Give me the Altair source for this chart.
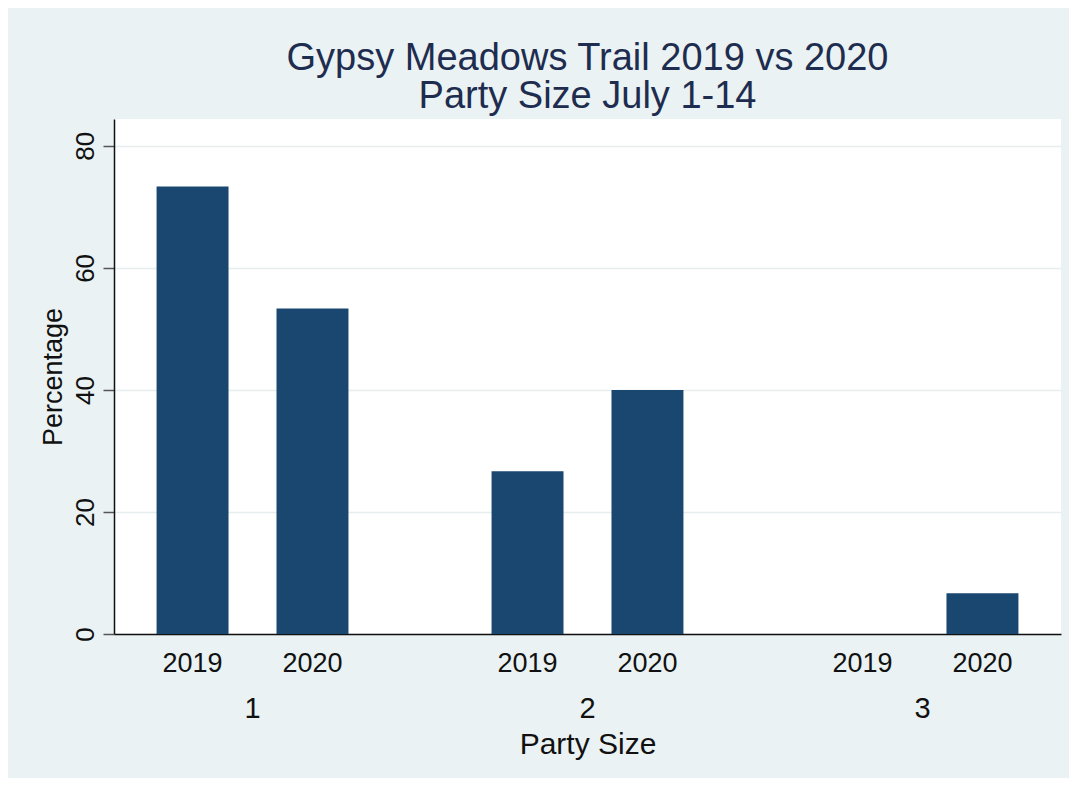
import altair as alt
import pandas as pd

# Data
party_sizes = ["1", "1", "2", "2", "3", "3"]
years = ["2019", "2020", "2019", "2020", "2019", "2020"]
percentages = [73.33, 53.33, 26.67, 40.0, 0.0, 6.67]
y_ticks = [0, 20, 40, 60, 80]
title_lines = ["Gypsy Meadows Trail 2019 vs 2020", "Party Size July 1-14"]

df = pd.DataFrame({"party": party_sizes, "year": years, "pct": percentages})

FONT = "Liberation Sans"
BG = "#EAF2F3"
BAR = "#1A476F"
W, H = 947, 515

x_enc = alt.X(
    "party:N",
    sort=["1", "2", "3"],
    scale=alt.Scale(paddingInner=0.173, paddingOuter=0),
    axis=alt.Axis(
        title="Party Size",
        labelAngle=0,
        ticks=False,
        tickSize=0,
        labelPadding=83,
        labelBaseline="alphabetic",
        labelFontSize=29,
        labelFont=FONT,
        labelColor="#111111",
        titleFont=FONT,
        titleFontSize=30,
        titleFontWeight="normal",
        titleColor="#111111",
        titleBaseline="alphabetic",
        titleY=119,
        domainColor="#111111",
        domainWidth=1.5,
        grid=False,
    ),
)
xoff_enc = alt.XOffset(
    "year:N",
    sort=["2019", "2020"],
    scale=alt.Scale(paddingInner=0.4, paddingOuter=0.355),
)
y_enc = alt.Y(
    "pct:Q",
    scale=alt.Scale(domain=[0, 84.4], nice=False, zero=True),
    axis=alt.Axis(
        title="Percentage",
        values=y_ticks,
        labelAngle=270,
        labelAlign="center",
        labelBaseline="alphabetic",
        labelPadding=10,
        tickSize=11,
        tickColor="#555555",
        tickWidth=1.5,
        labelFont=FONT,
        labelFontSize=26,
        labelColor="#111111",
        titleFont=FONT,
        titleFontSize=27,
        titleFontWeight="normal",
        titleColor="#111111",
        titleAngle=270,
        titleAlign="center",
        titleBaseline="middle",
        titleX=-61,
        titleY=H / 2,
        domainColor="#111111",
        domainWidth=1.5,
        grid=True,
        gridColor="#E6EEF0",
        gridWidth=1.5,
    ),
)

base = alt.Chart(df)

bars = base.mark_bar(color=BAR, strokeWidth=0).encode(
    x=x_enc, xOffset=xoff_enc, y=y_enc
)

year_labels = base.mark_text(
    font=FONT, fontSize=27, color="#111111", baseline="alphabetic"
).encode(
    x=alt.X("party:N", sort=["1", "2", "3"]),
    xOffset=alt.XOffset("year:N", sort=["2019", "2020"]),
    y=alt.value(H + 38),
    text="year:N",
)

chart = (
    alt.layer(bars, year_labels)
    .properties(
        width=W,
        height=H,
        background=BG,
        padding={"left": 106, "top": 111, "right": 8, "bottom": 144},
        autosize=alt.AutoSizeParams(type="none"),
        title=alt.TitleParams(
            text=title_lines,
            font=FONT,
            fontSize=38,
            fontWeight="normal",
            color="#1E2D4F",
            anchor="middle",
            frame="group",
            lineHeight=38,
            offset=3,
        ),
    )
    .configure_view(fill="white", stroke=None)
)

chart.save("out.html", embed_options={"renderer": "svg", "actions": False})
